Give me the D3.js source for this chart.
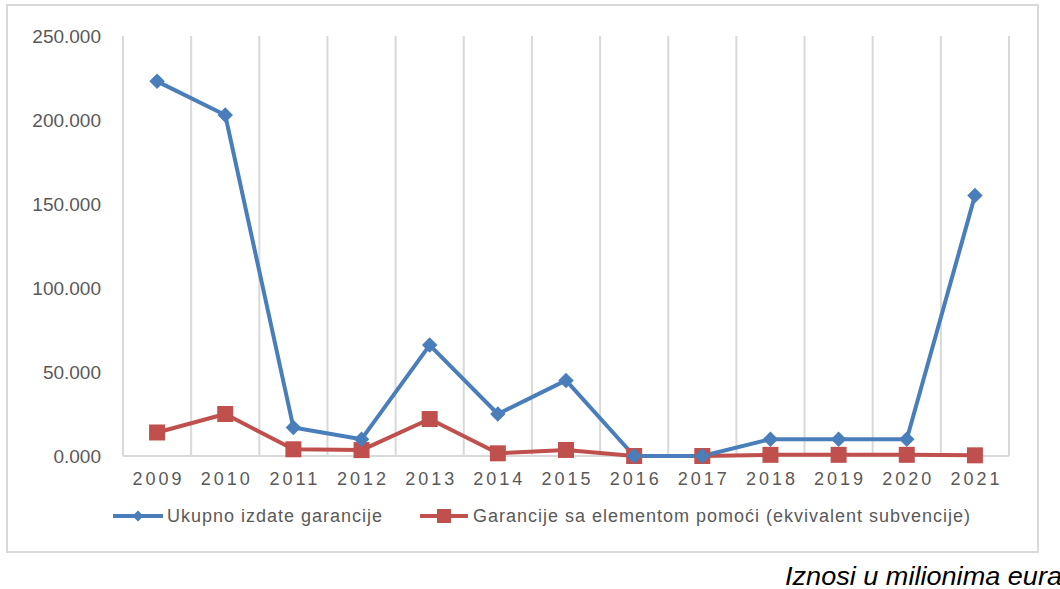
<!DOCTYPE html>
<html>
<head>
<meta charset="utf-8">
<script src="https://cdn.jsdelivr.net/npm/d3@7"></script>
<style>
  html, body { margin: 0; padding: 0; background: #fff; }
  svg { display: block; font-family: "Liberation Sans", Arial, sans-serif; }
</style>
</head>
<body>
<svg id="chart" width="1060" height="589"></svg>
<script>
const years = ["2009","2010","2011","2012","2013","2014","2015","2016","2017","2018","2019","2020","2021"];
const ukupno = [223, 203, 17, 10, 66, 25, 45, 0, 0, 10, 10, 10, 155];
const garancije = [14, 25, 4, 3.5, 22, 1.6, 3.6, 0, 0, 0.7, 0.7, 0.7, 0.4];
const yTicks = [0, 50, 100, 150, 200, 250];
const seriesNames = ["Ukupno izdate garancije", "Garancije sa elementom pomoći (ekvivalent subvencije)"];
const caption = "Iznosi u milionima eura";

(function () {
const blue = "#4a7ebb", red = "#c0504d", grid = "#d9d9d9", txt = "#595959";
const svg = d3.select("#chart");

// outer box
svg.append("rect").attr("x", 7).attr("y", 5).attr("width", 1031).attr("height", 547)
  .attr("fill", "#fff").attr("stroke", grid).attr("stroke-width", 2);

const pL = 123, pR = 1009, pT = 36, pB = 456;
const x = d3.scaleBand().domain(years).range([pL, pR]).padding(0);
const y = d3.scaleLinear().domain([0, 250]).range([pB, pT]);
const cx = d => x(d) + x.bandwidth() / 2;

// vertical gridlines at category boundaries
const bounds = years.map(d => x(d)).concat([pR]);
svg.append("g").selectAll("line").data(bounds).join("line")
  .attr("x1", d => d).attr("x2", d => d).attr("y1", pT).attr("y2", pB)
  .attr("stroke", grid).attr("stroke-width", 2);

// x axis line
svg.append("line").attr("x1", pL).attr("x2", pR).attr("y1", pB).attr("y2", pB)
  .attr("stroke", grid).attr("stroke-width", 2);

// y labels
const fmt = v => d3.format(".3f")(v);
svg.append("g").selectAll("text").data(yTicks).join("text")
  .attr("x", 101).attr("y", d => y(d)).attr("dy", "0.35em")
  .attr("text-anchor", "end").attr("font-size", 19).attr("fill", txt)
  .text(d => fmt(d));

// x labels
svg.append("g").selectAll("text").data(years).join("text")
  .attr("x", d => cx(d) + 1.5).attr("y", 479).attr("dy", "0.35em")
  .attr("text-anchor", "middle").attr("font-size", 18).attr("letter-spacing", "3px")
  .attr("fill", txt).text(d => d);

const line = d3.line().x((d, i) => cx(years[i])).y(d => y(d));

// red series
svg.append("path").datum(garancije).attr("d", line).attr("fill", "none")
  .attr("stroke", red).attr("stroke-width", 4).attr("stroke-linejoin", "round");
// blue series
svg.append("path").datum(ukupno).attr("d", line).attr("fill", "none")
  .attr("stroke", blue).attr("stroke-width", 4).attr("stroke-linejoin", "round");

// red markers (squares)
svg.append("g").selectAll("rect").data(garancije).join("rect")
  .attr("x", (d, i) => cx(years[i]) - 8)
  .attr("y", d => y(d) - 8).attr("width", 16).attr("height", 16).attr("fill", red);

// blue markers (diamonds)
svg.append("g").selectAll("path").data(ukupno).join("path")
  .attr("transform", (d, i) => `translate(${cx(years[i])},${y(d)}) rotate(45)`)
  .attr("d", d3.symbol().type(d3.symbolSquare).size(120)).attr("fill", blue);

// legend
const legY = 516;
const lg = svg.append("g");
lg.append("line").attr("x1", 113).attr("x2", 163).attr("y1", legY).attr("y2", legY)
  .attr("stroke", blue).attr("stroke-width", 4);
lg.append("path").attr("transform", `translate(138,${legY}) rotate(45)`)
  .attr("d", d3.symbol().type(d3.symbolSquare).size(60)).attr("fill", blue);
lg.append("text").attr("x", 167).attr("y", legY).attr("dy", "0.35em")
  .attr("font-size", 18).attr("fill", txt)
  .attr("textLength", 215).attr("lengthAdjust", "spacing").text(seriesNames[0]);

lg.append("line").attr("x1", 420).attr("x2", 468).attr("y1", legY).attr("y2", legY)
  .attr("stroke", red).attr("stroke-width", 4);
lg.append("rect").attr("x", 437).attr("y", legY - 7).attr("width", 14).attr("height", 14).attr("fill", red);
lg.append("text").attr("x", 473).attr("y", legY).attr("dy", "0.35em")
  .attr("font-size", 18).attr("fill", txt)
  .attr("textLength", 497).attr("lengthAdjust", "spacing").text(seriesNames[1]);

// caption
svg.append("text").attr("x", 785).attr("y", 585)
  .attr("font-size", 25).attr("font-style", "italic").attr("fill", "#000")
  .attr("textLength", 277).attr("lengthAdjust", "spacingAndGlyphs")
  .text(caption);
})();
</script>
</body>
</html>
